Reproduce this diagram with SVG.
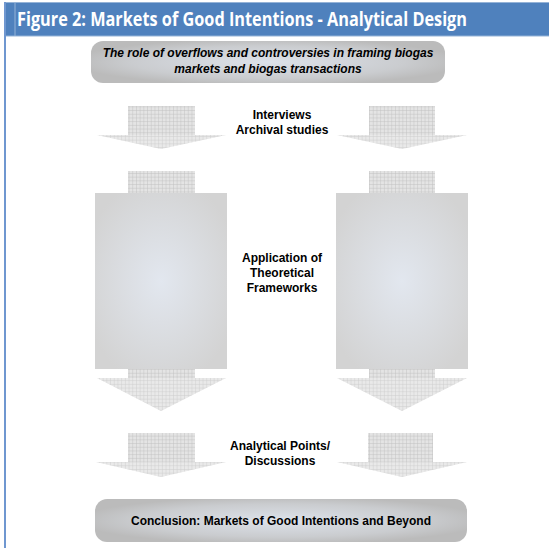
<svg xmlns="http://www.w3.org/2000/svg" width="549" height="548" viewBox="0 0 549 548">
<style>
.lbl{font-family:"Liberation Sans",Arial,sans-serif;font-weight:bold;font-size:12px;fill:#000;text-anchor:middle}
.arrow{fill:url(#grid)}
</style>
<defs>
<pattern id="grid" width="3.7" height="3.7" patternUnits="userSpaceOnUse">
<rect width="3.7" height="3.7" fill="#e4e4e4"/>
<path d="M3.7 0V3.7M0 3.7H3.7" stroke="#bcbcbc" stroke-width="0.8"/>
</pattern>
<radialGradient id="boxg" cx="0.5" cy="0.5" r="0.6">
<stop offset="0" stop-color="#e2e7ef"/>
<stop offset="1" stop-color="#d3d3d3"/>
</radialGradient>
<radialGradient id="pillg" cx="0.5" cy="0.5" r="0.55">
<stop offset="0" stop-color="#dde2ea"/>
<stop offset="0.7" stop-color="#cacccf"/>
<stop offset="1" stop-color="#bbbbbb"/>
</radialGradient>
</defs>
<rect width="549" height="548" fill="#fff"/>
<g id="header">
<rect x="4" y="2" width="545" height="34" fill="#4f81bd"/>
<line x1="4" y1="2.5" x2="549" y2="2.5" stroke="#95b3d7" stroke-width="1"/>
<line x1="15" y1="3" x2="15" y2="36" stroke="#95b3d7" stroke-width="1"/>
<line x1="4" y1="36" x2="549" y2="36" stroke="#95b3d7" stroke-width="1"/>
<line x1="5" y1="2" x2="5" y2="548" stroke="#6f97d0" stroke-width="2"/>
<text x="17" y="26" font-family="'Open Sans','Noto Sans',sans-serif" font-weight="bold" font-size="19" fill="#fff" textLength="450" lengthAdjust="spacingAndGlyphs">Figure 2: Markets of Good Intentions - Analytical Design</text>
</g>
<g id="top-box">
<rect x="91" y="41" width="354" height="42" rx="12" fill="url(#pillg)"/>
<text class="lbl" x="268" y="57" font-style="italic">The role of overflows and controversies in framing biogas</text>
<text class="lbl" x="268" y="73" font-style="italic">markets and biogas transactions</text>
</g>
<g id="connectors">
<path class="arrow" d="M128 106H195V135H226L161 149L97 135H128Z"/>
<path class="arrow" d="M369 106H435V135H467L402 149L337 135H369Z"/>
<rect class="arrow" x="128" y="171" width="67" height="23"/>
<rect class="arrow" x="369" y="171" width="66" height="23"/>
<path class="arrow" d="M128 368H195V378H226L161 411L97 378H128Z"/>
<path class="arrow" d="M369 368H435V378H467L402 411L337 378H369Z"/>
<path class="arrow" d="M128 433H195V462H226L161 477L96 462H128Z"/>
<path class="arrow" d="M368 433H433V462H467L402 477L337 462H368Z"/>
<path d="M97 135H226L161 149Z M337 135H467L402 149Z M97 378H226L161 411Z M337 378H467L402 411Z M96 462H226L161 477Z M337 462H467L402 477Z" fill="#fff" opacity="0.2"/>
</g>
<g id="label-interviews">
<text class="lbl" x="282" y="119">Interviews</text>
<text class="lbl" x="282" y="134">Archival studies</text>
</g>
<g id="box-left">
<rect x="95" y="193" width="132" height="176" fill="url(#boxg)"/>
</g>
<g id="box-right">
<rect x="336" y="193" width="132" height="176" fill="url(#boxg)"/>
</g>
<g id="label-frameworks">
<text class="lbl" x="282" y="262">Application of</text>
<text class="lbl" x="282" y="277">Theoretical</text>
<text class="lbl" x="282" y="292">Frameworks</text>
</g>
<g id="label-analytical">
<text class="lbl" x="280" y="450">Analytical Points/</text>
<text class="lbl" x="280" y="465">Discussions</text>
</g>
<g id="bottom-box">
<rect x="95" y="499" width="372" height="43" rx="12" fill="url(#pillg)"/>
<text class="lbl" x="281" y="525">Conclusion: Markets of Good Intentions and Beyond</text>
</g>
</svg>
